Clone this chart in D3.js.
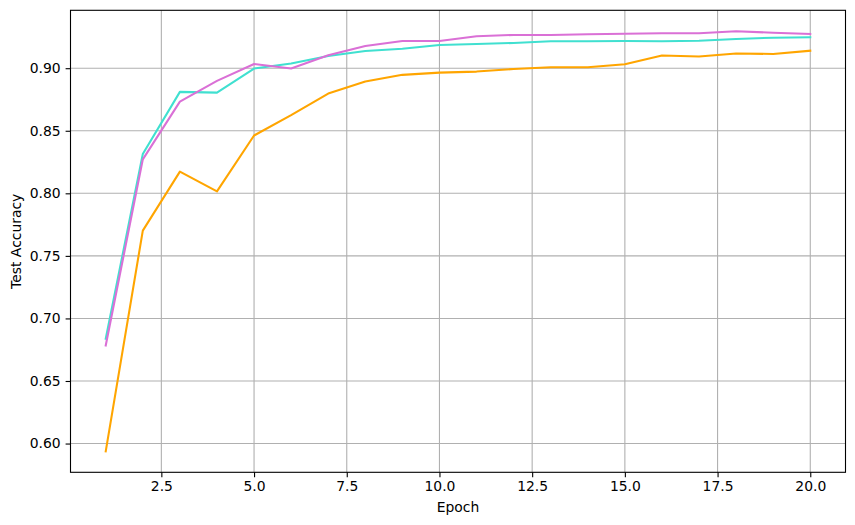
<!DOCTYPE html>
<html>
<head>
<meta charset="utf-8">
<script src="https://cdn.jsdelivr.net/npm/d3@7"></script>
<style>
  body { margin: 0; background: #fff; }
  text { font-family: "DejaVu Sans", sans-serif; font-size: 13.9px; fill: #000; }
</style>
</head>
<body>
<svg id="graph"></svg>
<script>
var epochs = [1,2,3,4,5,6,7,8,9,10,11,12,13,14,15,16,17,18,19,20]
var accOrchid = [0.6784,0.8271,0.8733,0.8899,0.9034,0.8997,0.9104,0.9178,0.9218,0.9218,0.9255,0.9266,0.9266,0.9271,0.9276,0.9279,0.9279,0.9295,0.9284,0.9274]
var accTurquoise = [0.6838,0.8314,0.8811,0.8805,0.8997,0.9037,0.9098,0.9138,0.9156,0.9186,0.9194,0.9202,0.9215,0.9215,0.9218,0.9215,0.9220,0.9234,0.9244,0.9247]
var accOrange = [0.5938,0.7702,0.8173,0.8015,0.8462,0.8625,0.8797,0.8893,0.8947,0.8965,0.8973,0.8994,0.9008,0.9008,0.9032,0.9101,0.9093,0.9117,0.9114,0.9140]
var xTicks = [2.5,5.0,7.5,10.0,12.5,15.0,17.5,20.0]
var yTicks = [0.60,0.65,0.70,0.75,0.80,0.85,0.90]

var series = [
    {values:accTurquoise, color:"#40e0d0"},
    {values:accOrchid, color:"#da70d6"},
    {values:accOrange, color:"#ffa500"}
]

var initGraph=function()
    {
        var screen={width:855,height:525}
        var margins={left:70.5,right:9.5,top:10.3,bottom:52.7}
        var graph=
            {
                width:screen.width-margins.left-margins.right,
                height:screen.height-margins.top-margins.bottom
            }

        var svg=d3.select("#graph")
            .attr("width",screen.width)
            .attr("height",screen.height)

        var target=svg.append("g")
            .attr("transform","translate("+margins.left+","+margins.top+")")

        // matplotlib style 5% padding on both axes
        var xMin=d3.min(epochs), xMax=d3.max(epochs)
        var xPad=(xMax-xMin)*0.05
        var allVals=accOrchid.concat(accTurquoise,accOrange)
        var yMin=d3.min(allVals), yMax=d3.max(allVals)
        var yPad=(yMax-yMin)*0.05

        var xScale=d3.scaleLinear()
            .domain([xMin-xPad,xMax+xPad])
            .range([0,graph.width])
        var yScale=d3.scaleLinear()
            .domain([yMin-yPad,yMax+yPad])
            .range([graph.height,0])

        // grid
        target.append("g")
            .selectAll("line")
            .data(xTicks)
            .enter()
            .append("line")
            .attr("x1",function(d){return xScale(d)})
            .attr("x2",function(d){return xScale(d)})
            .attr("y1",0)
            .attr("y2",graph.height)
            .attr("stroke","#b0b0b0")
            .attr("stroke-width",1.1)
        target.append("g")
            .selectAll("line")
            .data(yTicks)
            .enter()
            .append("line")
            .attr("y1",function(d){return yScale(d)})
            .attr("y2",function(d){return yScale(d)})
            .attr("x1",0)
            .attr("x2",graph.width)
            .attr("stroke","#b0b0b0")
            .attr("stroke-width",1.1)

        var line=d3.line()
            .x(function(d,i){return xScale(epochs[i])})
            .y(function(d){return yScale(d)})

        series.forEach(function(s)
            {
                target.append("path")
                    .datum(s.values)
                    .attr("d",line)
                    .attr("fill","none")
                    .attr("stroke",s.color)
                    .attr("stroke-width",2.08)
                    .attr("stroke-linejoin","round")
                    .attr("stroke-linecap","square")
            })

        // axes
        var xAxis=d3.axisBottom(xScale)
            .tickValues(xTicks)
            .tickFormat(d3.format(".1f"))
            .tickSize(4.9)
            .tickPadding(4.2)
        var yAxis=d3.axisLeft(yScale)
            .tickValues(yTicks)
            .tickFormat(d3.format(".2f"))
            .tickSize(4.9)
            .tickPadding(4.9)

        var gx=target.append("g")
            .attr("transform","translate(0,"+graph.height+")")
            .call(xAxis)
        var gy=target.append("g")
            .call(yAxis)
        ;[gx,gy].forEach(function(g)
            {
                g.select(".domain").remove()
                g.selectAll("line").attr("stroke","#000").attr("stroke-width",1.1)
                g.selectAll("text").attr("font-family",null).attr("font-size",null).attr("fill","#000")
            })

        // frame
        target.append("rect")
            .attr("x",0)
            .attr("y",0)
            .attr("width",graph.width)
            .attr("height",graph.height)
            .attr("fill","none")
            .attr("stroke","#000")
            .attr("stroke-width",1.1)

        // labels
        svg.append("text")
            .text("Epoch")
            .attr("text-anchor","middle")
            .attr("x",margins.left+graph.width/2)
            .attr("y",512)
        svg.append("text")
            .text("Test Accuracy")
            .attr("text-anchor","middle")
            .attr("transform","translate(21,"+(margins.top+graph.height/2)+") rotate(-90)")
    }

initGraph()
</script>
</body>
</html>
